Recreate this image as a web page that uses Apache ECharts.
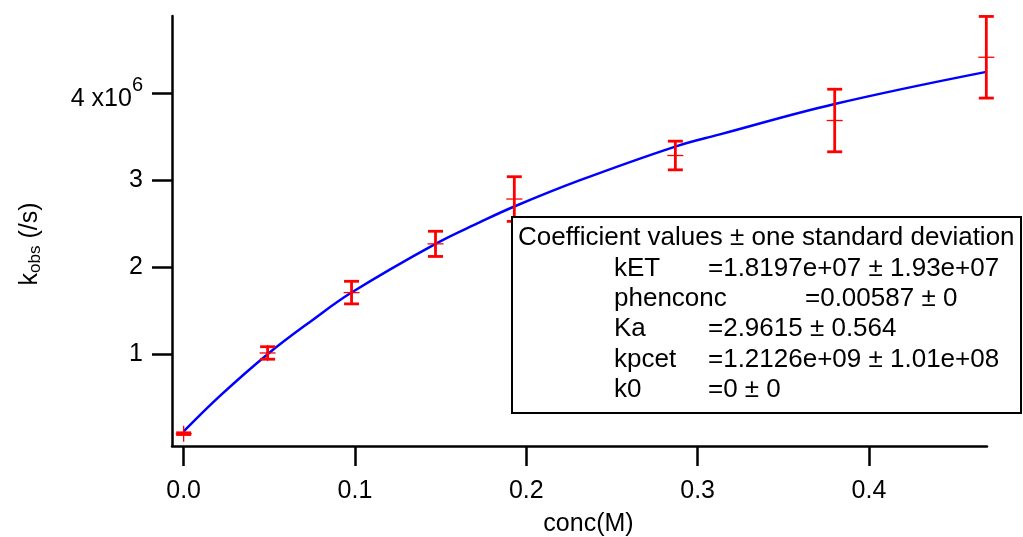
<!DOCTYPE html>
<html>
<head>
<meta charset="utf-8">
<script src="https://cdn.jsdelivr.net/npm/echarts@6/dist/echarts.min.js"></script>
<style>html,body{margin:0;padding:0;background:#fff}#c{width:1023px;height:537px}</style>
</head>
<body>
<div id="c"></div>
<script>
// measured data (k_obs in units of 1e6 /s)
const concX = [0, 0.049, 0.098, 0.147, 0.193, 0.287, 0.380, 0.4685];
const kobs  = [0.085, 1.014, 1.709, 2.27, 2.786, 3.287, 3.690, 4.418];
const kerr  = [0.01, 0.072, 0.13, 0.145, 0.257, 0.165, 0.36, 0.47];
// fit curve
const fitX = [0, 0.0212, 0.049, 0.0757, 0.098, 0.147, 0.173, 0.193, 0.231, 0.287, 0.313, 0.38, 0.4685];
const fitY = [0.11, 0.52, 1.00, 1.40, 1.71, 2.27, 2.52, 2.70, 3.00, 3.39, 3.53, 3.88, 4.25];
const xTicks = [0, 0.1, 0.2, 0.3, 0.4];
const yTicks = [1, 2, 3, 4];
const boxTitle = 'Coefficient values \u00b1 one standard deviation';
const coefNames = ['kET', 'phenconc', 'Ka', 'kpcet', 'k0'];
const coefVals = ['=1.8197e+07 \u00b1 1.93e+07', '=0.00587 \u00b1 0', '=2.9615 \u00b1 0.564', '=1.2126e+09 \u00b1 1.01e+08', '=0 \u00b1 0'];

const FONT = '"Liberation Sans", Arial, sans-serif';
const chart = echarts.init(document.getElementById('c'), null, {renderer: 'canvas'});

const errData = concX.map((x, i) => [x, kobs[i], kerr[i]]);
const fitData = fitX.map((x, i) => [x, fitY[i]]);

const graphics = [];
graphics.push({type: 'rect', z: 100, shape: {x: 512, y: 217, width: 509, height: 196},
  style: {fill: '#fff', stroke: '#000', lineWidth: 2}});
graphics.push({type: 'text', z: 101, style: {text: boxTitle, x: 518, y: 238, font: '26px ' + FONT, fill: '#000', verticalAlign: 'middle'}});
coefNames.forEach((n, i) => {
  const y = 268.5 + i * 30.4;
  graphics.push({type: 'text', z: 101, style: {text: n, x: 614, y: y, font: '26px ' + FONT, fill: '#000', verticalAlign: 'middle'}});
  graphics.push({type: 'text', z: 101, style: {text: coefVals[i], x: n === 'phenconc' ? 805 : 708, y: y, font: '26px ' + FONT, fill: '#000', verticalAlign: 'middle'}});
});

chart.setOption({
  animation: false,
  backgroundColor: '#fff',
  grid: {left: 172, right: 36, top: 16, bottom: 91, containLabel: false, outerBoundsMode: 'none'},
  xAxis: {
    type: 'value', min: -0.0068, max: 0.4689,
    name: 'conc(M)', nameLocation: 'middle', nameGap: 66,
    nameTextStyle: {fontFamily: FONT, fontSize: 25, color: '#000', padding: [0, 0, 0, 18]},
    axisLine: {show: true, onZero: false, lineStyle: {color: '#000', width: 2.5}},
    axisTick: {show: true, inside: false, length: 20, lineStyle: {color: '#000', width: 2.5}, customValues: xTicks},
    axisLabel: {fontFamily: FONT, fontSize: 25, color: '#000', margin: 33, customValues: xTicks,
      formatter: v => v.toFixed(1)},
    splitLine: {show: false}
  },
  yAxis: {
    type: 'value', min: -0.057, max: 4.893,
    name: '{k|k}{sub|obs}{k| (/s)}', nameLocation: 'middle', nameGap: 128, nameRotate: 90,
    nameTextStyle: {fontFamily: FONT, fontSize: 25, color: '#000', padding: [0, 26, 0, 0],
      rich: {k: {fontFamily: FONT, fontSize: 25, color: '#000'},
             sub: {fontFamily: FONT, fontSize: 17, color: '#000', verticalAlign: 'bottom', padding: [10, 0, 0, 0]}}},
    axisLine: {show: true, onZero: false, lineStyle: {color: '#000', width: 2.5}},
    axisTick: {show: true, inside: false, length: 20, lineStyle: {color: '#000', width: 2.5}, customValues: yTicks},
    axisLabel: {fontFamily: FONT, fontSize: 25, color: '#000', margin: 29, customValues: yTicks,
      formatter: v => v === 4 ? '{n|4 x10}{s|6}' : String(v),
      rich: {n: {fontFamily: FONT, fontSize: 25, color: '#000', padding: [12, 0, 0, 0]},
             s: {fontFamily: FONT, fontSize: 20, color: '#000', verticalAlign: 'top', padding: [0, 0, 14, 0]}}},
    splitLine: {show: false}
  },
  series: [
    {
      type: 'line', data: fitData, showSymbol: false, smooth: 0.4,
      lineStyle: {color: '#0000ff', width: 2.5}, z: 2, clip: false
    },
    {
      type: 'custom', data: errData, z: 3, clip: false,
      renderItem: function (params, api) {
        const x = api.value(0), y = api.value(1), e = api.value(2);
        const c = api.coord([x, y]);
        const top = api.coord([x, y + e]);
        const bot = api.coord([x, y - e]);
        const cap = 7.5, mk = 8;
        const st = {stroke: '#ff0000', lineWidth: 2.8};
        return {type: 'group', children: [
          {type: 'line', shape: {x1: top[0], y1: top[1], x2: bot[0], y2: bot[1]}, style: st},
          {type: 'line', shape: {x1: top[0] - cap, y1: top[1], x2: top[0] + cap, y2: top[1]}, style: st},
          {type: 'line', shape: {x1: bot[0] - cap, y1: bot[1], x2: bot[0] + cap, y2: bot[1]}, style: st},
          {type: 'line', shape: {x1: c[0] - mk, y1: c[1], x2: c[0] + mk, y2: c[1]}, style: {stroke: '#ff0000', lineWidth: 1.3}},
          {type: 'line', shape: {x1: c[0], y1: c[1] - mk, x2: c[0], y2: c[1] + mk}, style: {stroke: '#ff0000', lineWidth: 1.3}}
        ]};
      }
    }
  ],
  graphic: graphics
});
</script>
</body>
</html>
